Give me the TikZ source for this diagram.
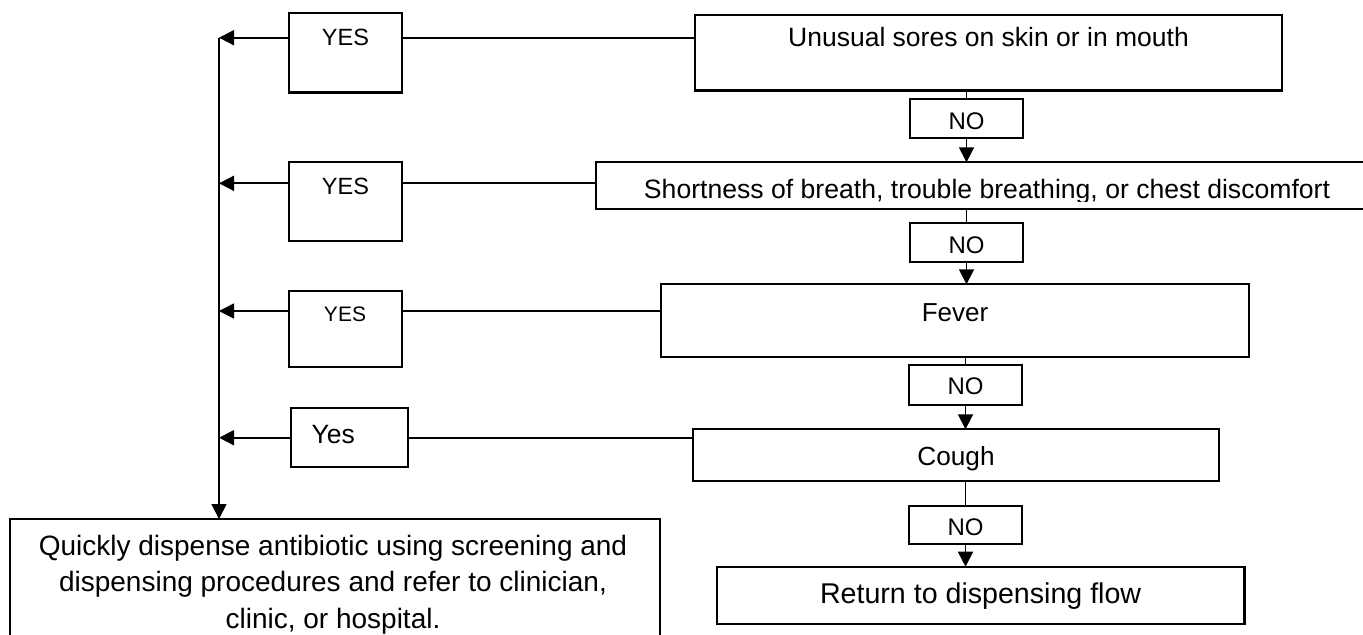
\documentclass[tikz,border=0pt]{standalone}
\usepackage{fontspec}
\setmainfont{Liberation Sans}
\usetikzlibrary{arrows.meta,fit}
\begin{document}
\begin{tikzpicture}[x=0.5pt,y=-0.5pt,
  box/.style={draw,line width=1.1pt,inner sep=0pt,outer sep=0pt},
  conn/.style={line width=0.85pt},
  arr/.style={conn,-{Triangle[length=7.5pt,width=7.5pt]}},
  txt/.style={inner sep=0pt,outer sep=0pt,anchor=base},
  fs/.style={font=\fontsize{#1}{#1}\selectfont}
]
\useasboundingbox (0,0) rectangle (1363,634);
\clip (0,0) rectangle (1363,634);

% YES boxes
\node (y1) [box, fit={(289,13) (402,92.5)}] {};
\node (y2) [box, fit={(289,161.7) (402,240.7)}] {};
\node (y3) [box, fit={(289,290.7) (402,367.3)}] {};
\node (y4) [box, fit={(290.7,408.3) (407.7,466.7)}] {};
% question boxes
\node (b1) [box, fit={(695,15) (1282,90.5)}] {};
\node (b2) [box, fit={(596,162.3) (1378,209.3)}] {};
\node (b3) [box, fit={(661,284.3) (1248.7,356.7)}] {};
\node (b4) [box, fit={(693.3,429.3) (1218.7,481.3)}] {};
% NO boxes
\node (n1) [box, fit={(910,99.3) (1023,137.7)}] {};
\node (n2) [box, fit={(910,223.3) (1023,262)}] {};
\node (n3) [box, fit={(909,365) (1022,405.3)}] {};
\node (n4) [box, fit={(909,505.7) (1022,544.3)}] {};
% end boxes
\node (ret) [box, fit={(716.8,566.7) (1244.5,624)}] {};
\node (q) [box, fit={(10,519) (660,690)}] {};

% coordinates
\coordinate (trunk) at (219,37.7);
\coordinate (r1) at (0,37.7);
\coordinate (r2) at (0,183.3);
\coordinate (r3) at (0,311);
\coordinate (r4) at (0,437.7);

% horizontal connectors
\draw[conn] (b1.west |- r1) -- (y1.east |- r1);
\draw[arr] (y1.west |- r1) -- (trunk |- r1);
\draw[conn] (b2.west |- r2) -- (y2.east |- r2);
\draw[arr] (y2.west |- r2) -- (trunk |- r2);
\draw[conn] (b3.west |- r3) -- (y3.east |- r3);
\draw[arr] (y3.west |- r3) -- (trunk |- r3);
\draw[conn] (b4.west |- r4) -- (y4.east |- r4);
\draw[arr] (y4.west |- r4) -- (trunk |- r4);
% trunk
\draw[arr] (trunk) -- (trunk |- q.north);

% vertical connectors
\draw[conn] (n1 |- b1.south) -- (n1.north);
\draw[arr] (n1.south) -- (n1 |- b2.north);
\draw[conn] (n2 |- b2.south) -- (n2.north);
\draw[arr] (n2.south) -- (n2 |- b3.north);
\draw[conn] (n3 |- b3.south) -- (n3.north);
\draw[arr] (n3.south) -- (n3 |- b4.north);
\draw[conn] (n4 |- b4.south) -- (n4.north);
\draw[arr] (n4.south) -- (n4 |- ret.north);

% texts
\node[txt,fs=11.75] (ty1) at (345.5,45.7) {YES};
\node[txt,fs=11.75] (ty2) at (345.5,194) {YES};
\node[txt,fs=10.5] (ty3) at (345,321) {YES};
\node[txt,fs=13.25,anchor=base west] (ty4) at (311.7,443.3) {Yes};

\node[txt,fs=13.25] (tb1) at (988.5,46) {Unusual sores on skin or in mouth};
\begin{scope}
  \clip (596,162.3) rectangle (1378,201);
  \node[txt,fs=13.3] (tb2) at (987,198.3) {Shortness of breath, trouble breathing, or chest discomfort};
\end{scope}
\node[txt,fs=13] (tb3) at (955,321) {Fever};
\node[txt,fs=13.1] (tb4) at (956,465) {Cough};

\node[txt,fs=12] (tn1) at (966.5,129.3) {NO};
\node[txt,fs=12] (tn2) at (966.5,253.5) {NO};
\node[txt,fs=12] (tn3) at (965.5,394) {NO};
\node[txt,fs=12] (tn4) at (965.5,535) {NO};

\node[txt,fs=14.3] (tret) at (980.6,603.3) {Return to dispensing flow};

\node[txt,fs=14] (q1) at (333,555) {Quickly dispense antibiotic using screening and};
\node[txt,fs=14] (q2) at (333,591.7) {dispensing procedures and refer to clinician,};
\node[txt,fs=14] (q3) at (333,628.3) {clinic, or hospital.};
\end{tikzpicture}
\end{document}
